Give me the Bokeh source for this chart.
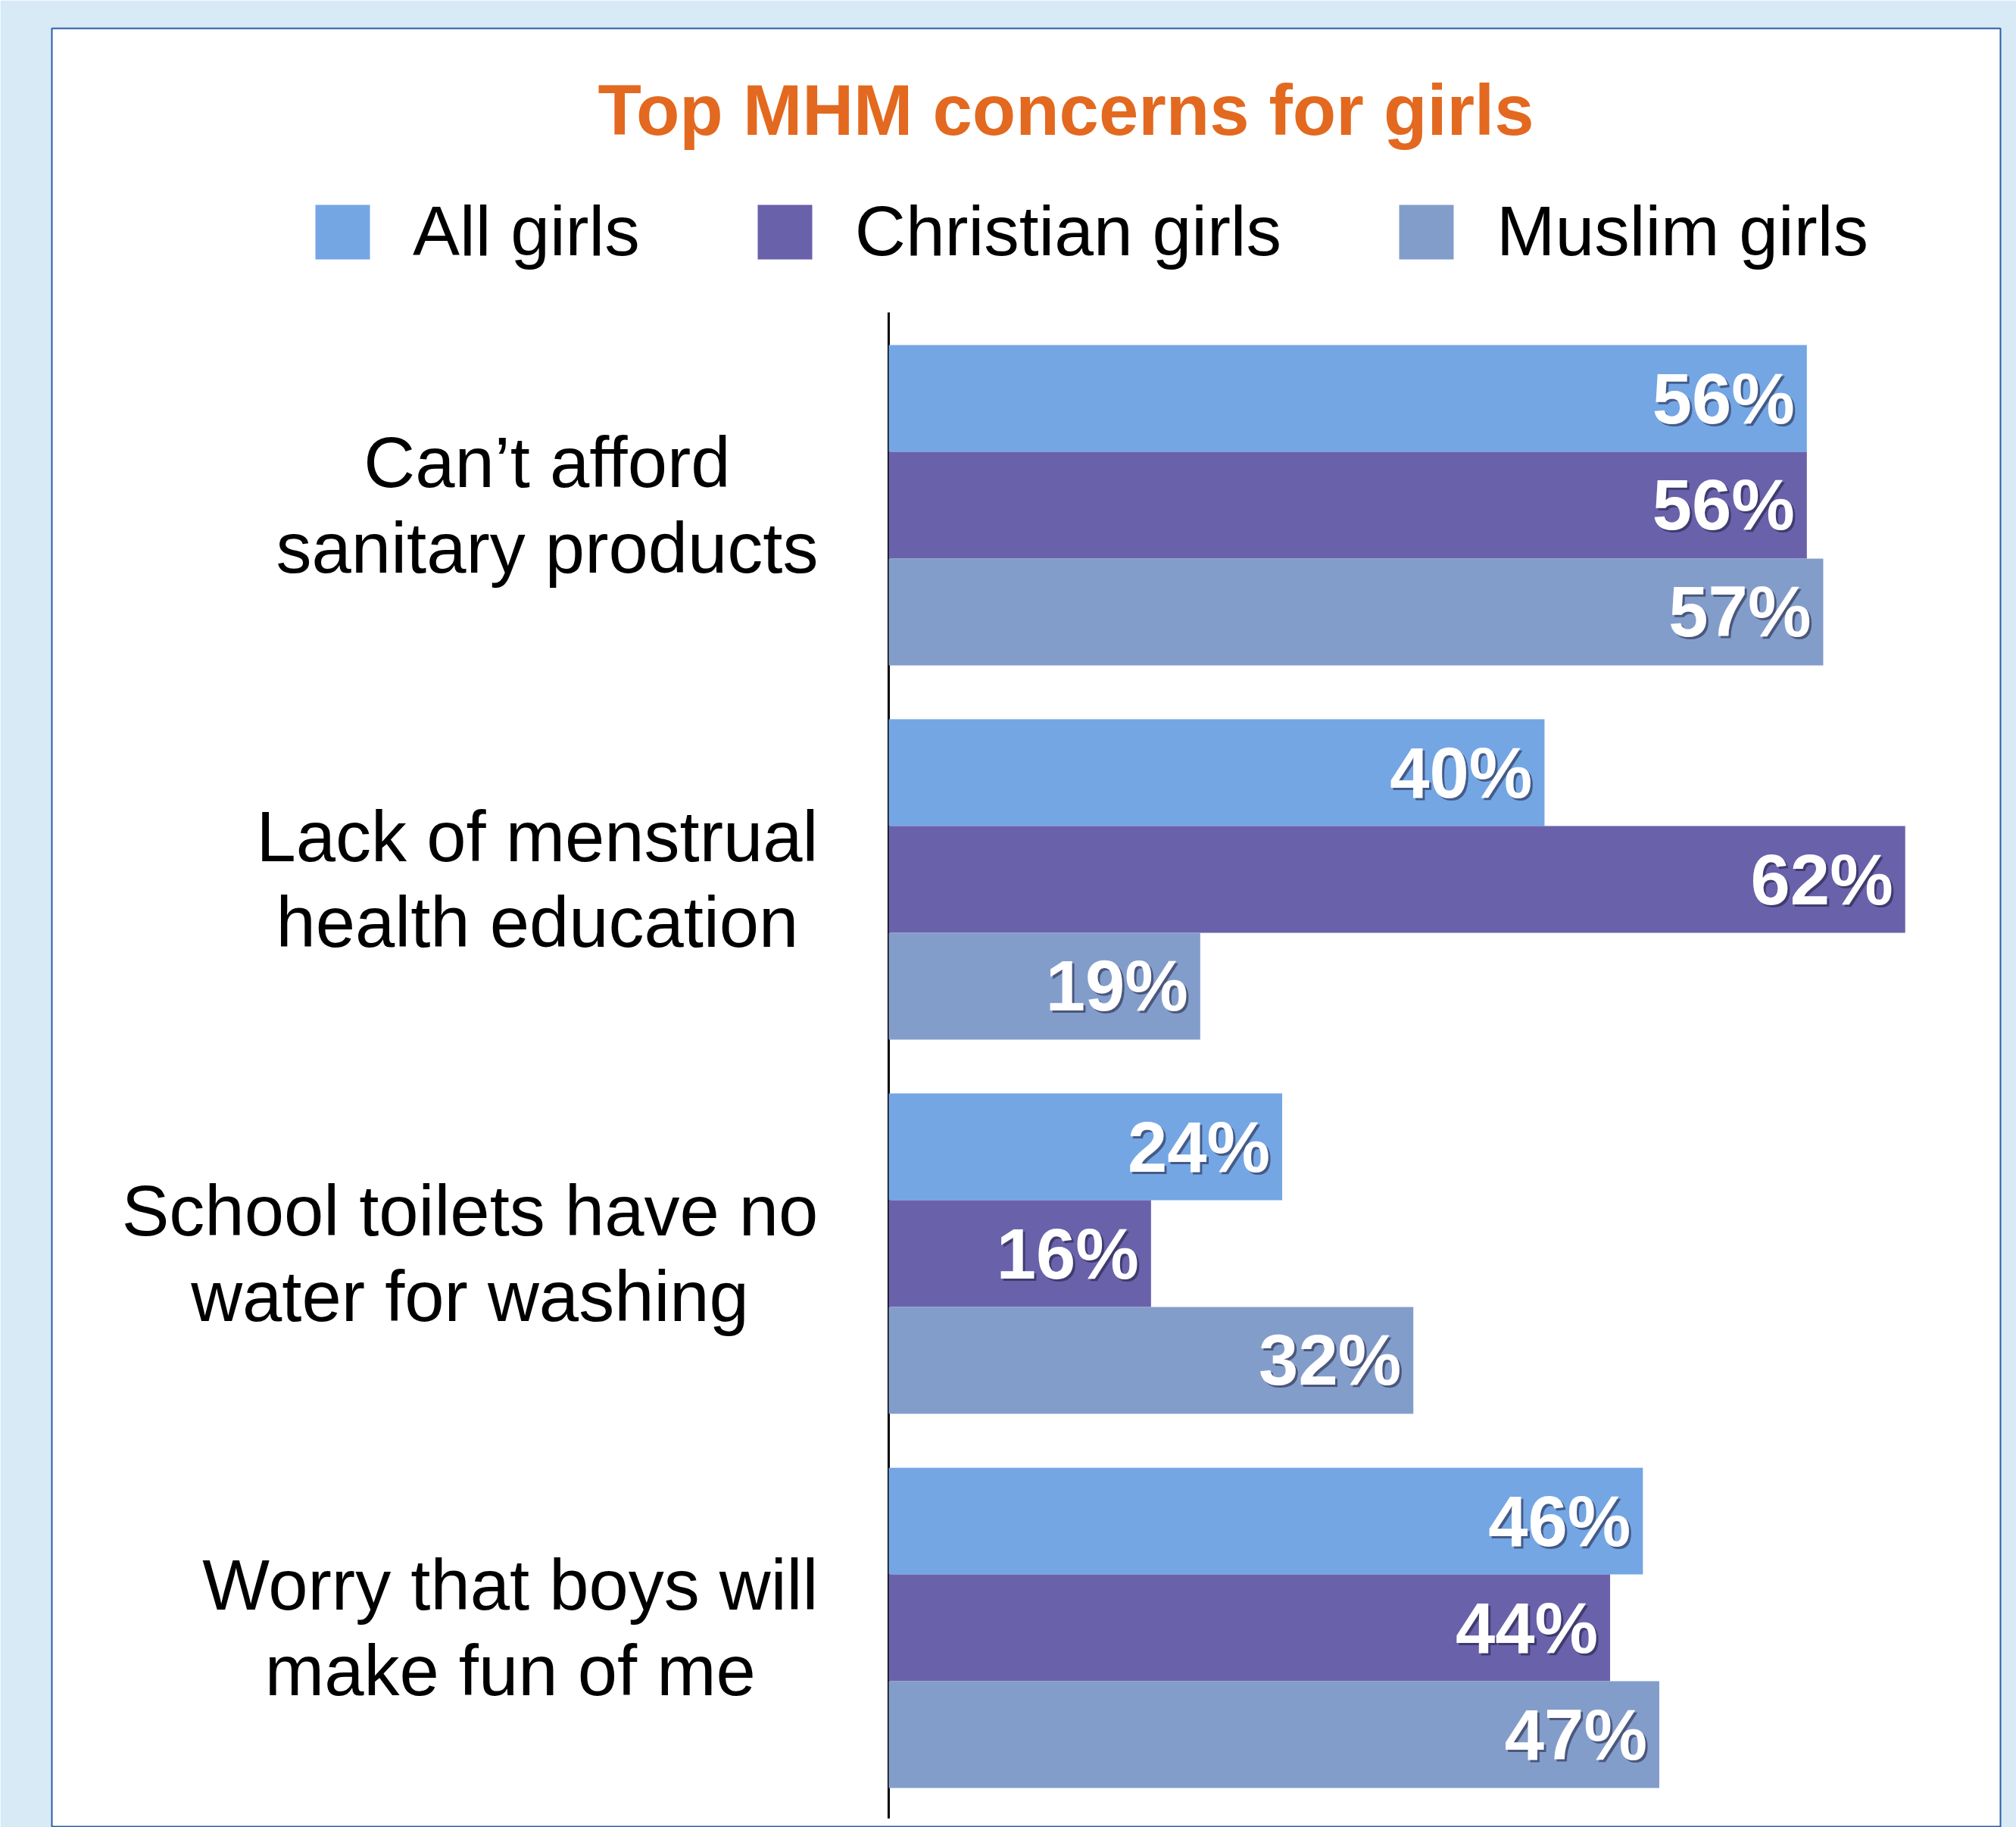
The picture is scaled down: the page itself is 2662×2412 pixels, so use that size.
from bokeh.plotting import figure
from bokeh.models import ColumnDataSource, Range1d, Label
from bokeh.core.properties import value
from bokeh.embed import file_html
from bokeh.resources import INLINE

# ---- data ----
categories = [
    "Can\u2019t afford\nsanitary products",
    "Lack of menstrual\nhealth education",
    "School toilets have no\nwater for washing",
    "Worry that boys will\nmake fun of me",
]
series = ["All girls", "Christian girls", "Muslim girls"]
all_girls = [56, 40, 24, 46]
christian_girls = [56, 62, 16, 44]
muslim_girls = [57, 19, 32, 47]
title_text = "Top MHM concerns for girls"

# ---- style ----
colors = ["#74a6e4", "#6a61ab", "#839dcb"]
FONT = "Liberation Sans"
GROUP_PITCH = 3.505  # bar slots per group incl. gap


def ypos(i, j):
    return -(i * GROUP_PITCH + j)


p = figure(
    width=2662, height=2412,
    x_range=Range1d(-51.04, 67.81),
    y_range=Range1d(-13.384, 3.466),
    output_backend="svg", toolbar_location=None,
    x_axis_location=None, y_axis_location=None,
    min_border_left=68, min_border_right=21,
    min_border_top=37, min_border_bottom=0,
    background_fill_color="white",
    border_fill_color="#d7eaf6",
    outline_line_color="#2a5ca8", outline_line_width=2,
)
p.grid.visible = False

# axis line
p.segment(x0=[0], y0=[0.806], x1=[0], y1=[-13.30], line_color="black", line_width=3)

for j, (name, vals) in enumerate(zip(series, [all_girls, christian_girls, muslim_girls])):
    src = ColumnDataSource(dict(
        y=[ypos(i, j) for i in range(len(vals))],
        v=vals,
        label=[f"{v}%" for v in vals],
    ))
    p.hbar(y="y", left=0, right="v", height=1.0, fill_color=colors[j],
           line_color=None, source=src, legend_label=name)
    # shadow
    p.text(x="v", y="y", text="label", x_offset=-13, y_offset=3,
           text_align="right", text_baseline="middle",
           text_font=value(FONT), text_font_style="bold", text_font_size="94px",
           text_color="#1e1e3c", text_alpha=0.55, source=src)
    p.text(x="v", y="y", text="label", x_offset=-16, y_offset=0,
           text_align="right", text_baseline="middle",
           text_font=value(FONT), text_font_style="bold", text_font_size="94px",
           text_color="white", source=src)

cat_src = ColumnDataSource(dict(
    x=[-4.30] * len(categories),
    y=[ypos(i, 1) for i in range(len(categories))],
    text=categories,
))
p.text(x="x", y="y", text="text", source=cat_src, anchor="center_right",
       text_align="center", text_baseline="middle", text_line_height=1.08,
       text_font=value(FONT), text_font_size="94px", text_color="black")

p.add_layout(Label(x=10.81, y=2.70, text=title_text, text_align="center",
                   text_baseline="alphabetic", text_font=FONT,
                   text_font_size="94px", text_font_style="bold",
                   text_color="#e2691f"))

leg = p.legend[0]
leg.orientation = "horizontal"
leg.location = (339, 2053)
leg.glyph_width = 90
leg.glyph_height = 90
leg.label_standoff = 48
leg.spacing = 146
leg.padding = 0
leg.margin = 0
leg.border_line_color = None
leg.background_fill_alpha = 0
leg.label_text_font = FONT
leg.label_text_font_size = "93px"
leg.label_text_color = "black"

open("out.html", "w").write(file_html(p, INLINE))
